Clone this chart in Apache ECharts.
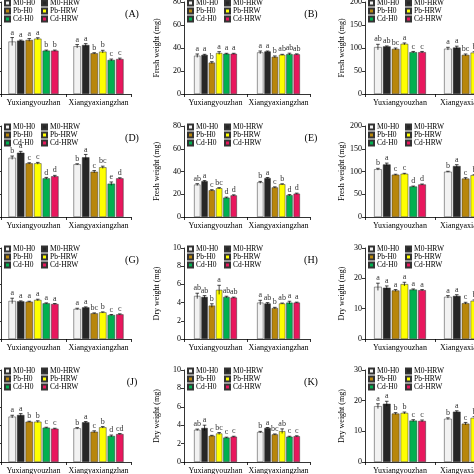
<!DOCTYPE html>
<html><head><meta charset="utf-8">
<script src="https://cdn.jsdelivr.net/npm/echarts@6/dist/echarts.min.js"></script>
<style>html,body{margin:0;padding:0;background:#fff}#c{width:474px;height:474px}</style>
</head><body><div id="c"></div><script>
// ---------- data ----------
const categories = ['Yuxiangyouzhan', 'Xiangyaxiangzhan'];
const treatments = ['M0-H0', 'M0-HRW', 'Pb-H0', 'Pb-HRW', 'Cd-H0', 'Cd-HRW'];

// values per panel: [Yuxiangyouzhan (6 treatments), Xiangyaxiangzhan (6 treatments)]
const valuesA = [[45.6, 46.4, 47.0, 48.1, 37.7, 37.7], [41.5, 42.6, 35.4, 36.8, 29.6, 30.4]];
const errorsA = [[3.5, 0.5, 1.2, 0.8, 0.5, 0.5], [1.5, 1.2, 0.5, 1.2, 0.8, 0.8]];
const lettersA = [['a','a','a','a','b','b'], ['a','a','b','b','c','c']];

const valuesB = [[33.3, 34.0, 27.3, 35.6, 35.0, 35.0], [36.2, 37.0, 32.3, 34.1, 34.7, 34.5]];
const errorsB = [[1.5, 0.5, 0.8, 1.2, 0.4, 0.4], [1.2, 0.4, 0.8, 0.4, 0.8, 0.4]];
const lettersB = [['a','a','b','a','a','a'], ['a','a','b','ab','ab','ab']];

const valuesC = [[102, 103.5, 98, 109, 91, 91], [98.5, 101, 85, 90, 80, 82]];
const errorsC = [[6, 1, 2, 2, 1.5, 1.5], [3, 3, 2, 2, 2, 2]];
const lettersC = [['ab','ab','bc','a','c','c'], ['a','a','bc','b','c','c']];

const valuesD = [[52.1, 56.5, 47.2, 47.2, 34.0, 35.8], [46.3, 52.5, 39.8, 43.7, 29.3, 34.0]];
const errorsD = [[1.5, 1.2, 0.5, 0.8, 0.8, 0.8], [0.5, 2.5, 1.0, 1.0, 1.5, 0.5]];
const lettersD = [['b','a','c','c','d','d'], ['b','a','c','bc','e','d']];

const valuesE = [[28.5, 31.5, 23.5, 25.3, 17.0, 19.0], [30.5, 34.2, 26.0, 28.8, 19.2, 20.5]];
const errorsE = [[0.8, 0.5, 0.5, 0.5, 0.5, 0.5], [0.8, 0.5, 0.5, 0.4, 0.5, 0.5]];
const lettersE = [['ab','a','c','bc','d','d'], ['b','a','c','b','d','d']];

const valuesF = [[105, 115.5, 93, 95, 67, 71.5], [99.5, 112, 84.5, 92, 65, 69]];
const errorsF = [[2, 3, 1, 1, 1, 1], [1, 3, 2, 1, 1, 1]];
const lettersF = [['b','a','c','c','d','d'], ['b','a','c','b','d','d']];

const valuesG = [[4.18, 4.14, 4.10, 4.29, 3.92, 3.85], [3.30, 3.48, 2.82, 2.93, 2.64, 2.71]];
const errorsG = [[0.3, 0.05, 0.05, 0.08, 0.05, 0.05], [0.08, 0.05, 0.05, 0.05, 0.05, 0.05]];
const lettersG = [['a','a','a','a','a','a'], ['a','a','bc','b','c','c']];

const valuesH = [[4.73, 4.62, 3.67, 5.4, 4.62, 4.55], [4.0, 3.9, 3.4, 3.9, 4.0, 4.0]];
const errorsH = [[0.3, 0.15, 0.2, 0.5, 0.08, 0.05], [0.25, 0.1, 0.08, 0.05, 0.15, 0.05]];
const lettersH = [['ab','ab','b','a','ab','ab'], ['a','ab','b','ab','a','a']];

const valuesI = [[17.2, 16.9, 16.0, 18.1, 16.3, 16.1], [13.9, 14.2, 11.8, 12.6, 11.0, 11.5]];
const errorsI = [[1.2, 0.6, 0.3, 0.6, 0.2, 0.2], [0.4, 0.4, 0.3, 0.3, 0.3, 0.3]];
const lettersI = [['a','a','a','a','a','a'], ['a','a','c','b','c','c']];

const valuesJ = [[4.93, 5.11, 4.38, 4.38, 3.73, 3.62], [3.66, 4.32, 3.29, 3.77, 2.83, 3.04]];
const errorsJ = [[0.15, 0.15, 0.05, 0.1, 0.05, 0.05], [0.08, 0.08, 0.1, 0.08, 0.1, 0.05]];
const lettersJ = [['a','a','b','b','c','c'], ['b','a','c','b','d','cd']];

const valuesK = [[3.5, 3.7, 2.85, 3.1, 2.65, 2.75], [3.25, 3.7, 3.0, 3.35, 2.75, 2.8]];
const errorsK = [[0.08, 0.3, 0.05, 0.1, 0.05, 0.05], [0.08, 0.05, 0.05, 0.25, 0.05, 0.05]];
const lettersK = [['ab','a','c','bc','c','c'], ['b','a','bc','ab','c','c']];

const valuesL = [[18.2, 19.0, 15.8, 16.0, 13.5, 13.4], [14.1, 16.4, 12.5, 14.4, 11.5, 12.0]];
const errorsL = [[0.8, 0.8, 0.3, 0.3, 0.3, 0.3], [0.3, 0.3, 0.4, 0.4, 0.3, 0.3]];
const lettersL = [['a','a','b','b','c','c'], ['b','a','c','b','d','d']];

const panelLabels = ['(A)','(B)','(C)','(D)','(E)','(F)','(G)','(H)','(I)','(J)','(K)','(L)'];
const yNames = ['', 'Fresh weight (mg)', 'Fresh weight (mg)', '', 'Fresh weight (mg)', 'Fresh weight (mg)',
                '', 'Dry weight (mg)', 'Dry weight (mg)', '', 'Dry weight (mg)', 'Dry weight (mg)'];
const yMax = [80, 80, 200, 80, 80, 200, 10, 10, 30, 10, 10, 30];
const yInterval = [20, 20, 50, 20, 20, 50, 2, 2, 10, 2, 2, 10];

const allValues = [valuesA, valuesB, valuesC, valuesD, valuesE, valuesF, valuesG, valuesH, valuesI, valuesJ, valuesK, valuesL];
const allErrors = [errorsA, errorsB, errorsC, errorsD, errorsE, errorsF, errorsG, errorsH, errorsI, errorsJ, errorsK, errorsL];
const allLetters = [lettersA, lettersB, lettersC, lettersD, lettersE, lettersF, lettersG, lettersH, lettersI, lettersJ, lettersK, lettersL];

// ---------- style / layout ----------
const colors = ['#f2f2f2', '#262626', '#b8860b', '#ffff00', '#00b050', '#e8175d'];
const FONT = '"Liberation Serif", "Times New Roman", serif';
const colLeft = [1, 184, 365];
const colWidth = [130, 126, 140];
const colGap = [0.23, 0.32, 0.26];
const colNameGap = [20, 23, 19];
const rowTop = [2, 126, 248, 370];
const rowHeight = [92, 91, 91, 92];
const BAR_GAP = 0.15;

const grids = [], xAxes = [], yAxes = [], series = [], legends = [], graphics = [];

for (let p = 0; p < 12; p++) {
  const col = p % 3, row = Math.floor(p / 3);
  grids.push({left: colLeft[col], top: rowTop[row], width: colWidth[col], height: rowHeight[row],
    containLabel: false, outerBoundsMode: 'none'});
  xAxes.push({
    type: 'category', gridIndex: p, data: categories,
    axisLine: {lineStyle: {color: '#000', width: 0.8}},
    axisTick: {show: true, length: 3, lineStyle: {color: '#000', width: 0.8}},
    axisLabel: {fontFamily: FONT, fontSize: 8, color: '#000', margin: 5, interval: 0}
  });
  yAxes.push({
    type: 'value', gridIndex: p, min: 0, max: yMax[p], interval: yInterval[p],
    splitLine: {show: false},
    axisLine: {show: true, lineStyle: {color: '#000', width: 0.8}},
    axisTick: {show: true, length: 3, lineStyle: {color: '#000', width: 0.8}},
    axisLabel: {fontFamily: FONT, fontSize: 8, color: '#000', margin: 3},
    name: yNames[p], nameLocation: 'middle', nameGap: colNameGap[col],
    nameTextStyle: {fontFamily: FONT, fontSize: 8, color: '#000'}
  });
  const vals = allValues[p];
  for (let t = 0; t < 6; t++) {
    series.push({
      type: 'bar', name: treatments[t], xAxisIndex: p, yAxisIndex: p,
      data: [vals[0][t], vals[1][t]],
      barCategoryGap: (colGap[col] * 100) + '%', barGap: (BAR_GAP * 100) + '%',
      itemStyle: {color: colors[t], borderColor: '#333', borderWidth: 0.5},
      emphasis: {disabled: true}, animation: false
    });
  }
  const errs = allErrors[p], lets = allLetters[p];
  const edata = [], elet = [];
  for (let c = 0; c < 2; c++) for (let t = 0; t < 6; t++) {
    edata.push([c, t, vals[c][t], errs[c][t]]);
    elet.push(lets[c][t]);
  }
  const gap = colGap[col];
  series.push({
    type: 'custom', name: 'err' + p, xAxisIndex: p, yAxisIndex: p, z: 5,
    encode: {x: 0, y: 2}, data: edata, animation: false, silent: true,
    renderItem: function (params, api) {
      const c = api.value(0), t = api.value(1), v = api.value(2), e = api.value(3);
      const band = api.size([1, 0])[0];
      const groupW = band * (1 - gap);
      const bw = groupW / (6 + 5 * BAR_GAP);
      const cx = api.coord([c, 0])[0];
      const x = cx - groupW / 2 + bw / 2 + t * bw * (1 + BAR_GAP);
      const yT = api.coord([c, v + e])[1];
      const yB = api.coord([c, v - e])[1];
      const cap = 1.8;
      return {type: 'group', children: [
        {type: 'line', shape: {x1: x, y1: yB, x2: x, y2: yT}, style: {stroke: '#000', lineWidth: 0.7}},
        {type: 'line', shape: {x1: x - cap, y1: yT, x2: x + cap, y2: yT}, style: {stroke: '#000', lineWidth: 0.7}},
        {type: 'text', style: {text: elet[params.dataIndex], x: x, y: yT - 1, align: 'center', verticalAlign: 'bottom',
          font: '8px ' + FONT, fill: '#333'}}
      ]};
    }
  });
  const lg = {
    orient: 'vertical', top: rowTop[row] - 3, itemWidth: 5, itemHeight: 5, itemGap: 0, padding: 0,
    selectedMode: false, icon: 'rect',
    textStyle: {fontFamily: FONT, fontSize: 7.5, lineHeight: 7, color: '#000', padding: [0, 0, 0, -2]}
  };
  legends.push(Object.assign({}, lg, {left: colLeft[col] + 3, data: ['M0-H0', 'Pb-H0', 'Cd-H0']}));
  legends.push(Object.assign({}, lg, {left: colLeft[col] + 40, data: ['M0-HRW', 'Pb-HRW', 'Cd-HRW']}));
  graphics.push({
    type: 'text', x: colLeft[col] + colWidth[col] + 1, y: rowTop[row] + 12,
    style: {text: panelLabels[p], font: '10px ' + FONT, fill: '#000', align: 'center', verticalAlign: 'middle'}
  });
}

const chart = echarts.init(document.getElementById('c'), null, {renderer: 'canvas'});
chart.setOption({
  animation: false, backgroundColor: '#fff',
  grid: grids, xAxis: xAxes, yAxis: yAxes, series: series, legend: legends, graphic: graphics
});
</script></body></html>
